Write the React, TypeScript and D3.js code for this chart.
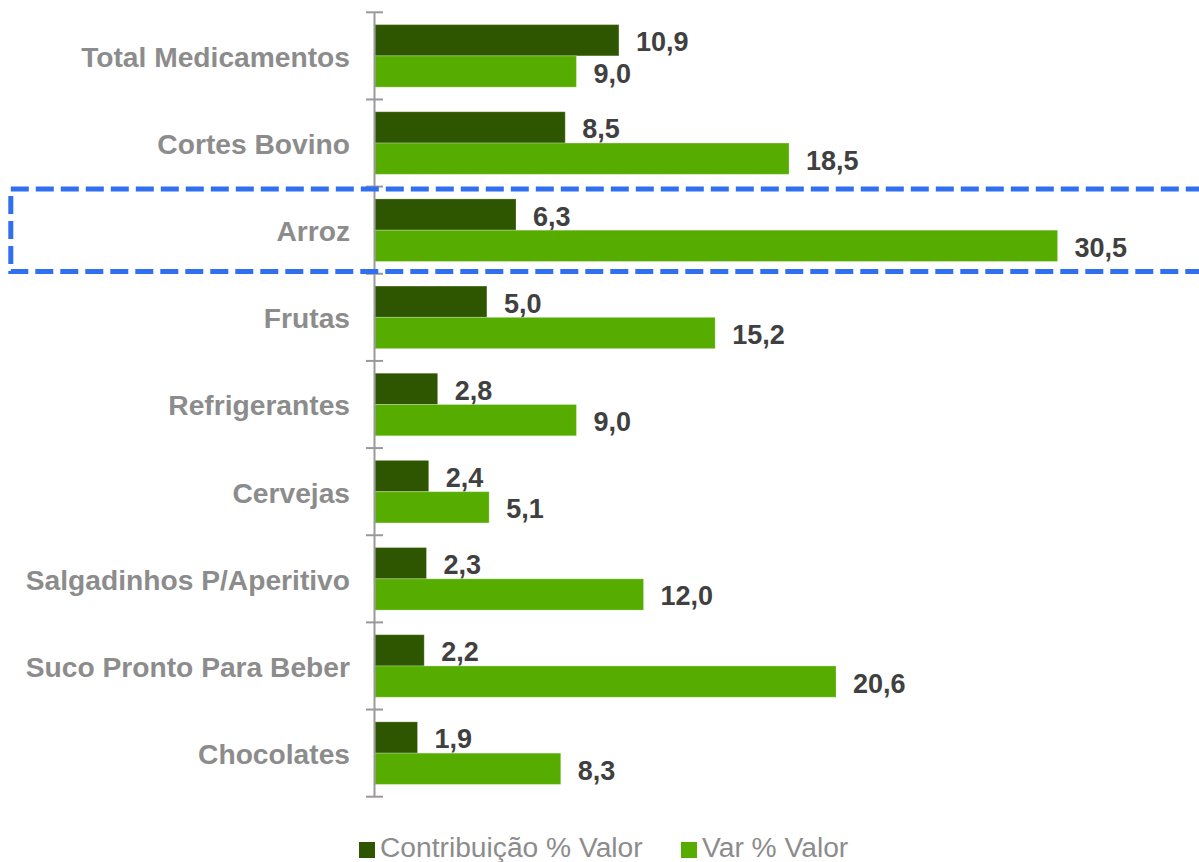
import React from "react";
import * as d3 from "d3";

const categories = [
  "Total Medicamentos",
  "Cortes Bovino",
  "Arroz",
  "Frutas",
  "Refrigerantes",
  "Cervejas",
  "Salgadinhos P/Aperitivo",
  "Suco Pronto Para Beber",
  "Chocolates",
];
const contribuicao = [10.9, 8.5, 6.3, 5.0, 2.8, 2.4, 2.3, 2.2, 1.9];
const varValor = [9.0, 18.5, 30.5, 15.2, 9.0, 5.1, 12.0, 20.6, 8.3];
const seriesNames = ["Contribuição % Valor", "Var % Valor"];
const seriesColors = ["#2E5500", "#56AD00"];
const highlighted = "Arroz";

const W = 1199;
const H = 862;
const FONT = "'Liberation Sans', Arial, Helvetica, sans-serif";

export default function App() {
  const x = d3.scaleLinear().domain([0, 35]).range([375, 375 + 35 * 22.38]);
  const y = d3.scaleBand<string>().domain(categories).range([12.3, 796.7]).padding(0);
  const step = y.bandwidth();
  const sub = d3
    .scaleBand<string>()
    .domain(["c", "v"])
    .range([12.3, step - 12.3])
    .padding(0);
  const series = [contribuicao, varValor];
  const ticks = d3.range(categories.length + 1).map((i) => 12.3 + i * step);
  const fmt = (v: number) => d3.format(".1f")(v).replace(".", ",");
  const hy = y(highlighted)!;

  return (
    <svg
      width={W}
      height={H}
      style={{ position: "absolute", left: 0, top: 0, background: "#fff" }}
      fontFamily={FONT}
    >
      {/* bars */}
      {categories.map((c, i) => (
        <g key={c} transform={`translate(0,${y(c)})`}>
          {series.map((s, k) => {
            const key = k === 0 ? "c" : "v";
            const y0 = sub(key)!;
            const bw = sub.bandwidth();
            return (
              <g key={key}>
                <rect
                  x={x(0)}
                  y={y0}
                  width={x(s[i]) - x(0)}
                  height={bw}
                  fill={seriesColors[k]}
                  stroke="rgba(255,255,255,0.25)"
                  strokeWidth={1}
                />
                <text
                  x={x(s[i]) + 17}
                  y={y0 + bw / 2 + 2}
                  dominantBaseline="central"
                  fontSize={27}
                  fontWeight="bold"
                  fill="#404040"
                >
                  {fmt(s[i])}
                </text>
              </g>
            );
          })}
          <text
            x={350}
            y={step / 2 + 1}
            textAnchor="end"
            dominantBaseline="central"
            fontSize={28.2}
            fontWeight="bold"
            fill="#8C8C8C"
          >
            {c}
          </text>
        </g>
      ))}

      {/* axis */}
      <line x1={374.5} x2={374.5} y1={ticks[0]} y2={ticks[ticks.length - 1]} stroke="#999" strokeWidth={2} />
      {ticks.map((t, i) => (
        <line key={i} x1={366} x2={383} y1={t} y2={t} stroke="#999" strokeWidth={2} />
      ))}

      {/* highlight box */}
      <rect
        x={10.8}
        y={hy + 2.4}
        width={1230}
        height={82.5}
        fill="none"
        stroke="#2F6FF0"
        strokeWidth={5}
        strokeDasharray="18 7"
      />

      {/* legend */}
      <g transform="translate(359,842)">
        <rect x={0} y={0} width={16} height={16} fill={seriesColors[0]} />
        <text x={21} y={15} fontSize={28.2} fill="#8C8C8C">
          {seriesNames[0]}
        </text>
      </g>
      <g transform="translate(681,842)">
        <rect x={0} y={0} width={16} height={16} fill={seriesColors[1]} />
        <text x={21} y={15} fontSize={28.2} fill="#8C8C8C">
          {seriesNames[1]}
        </text>
      </g>
    </svg>
  );
}
